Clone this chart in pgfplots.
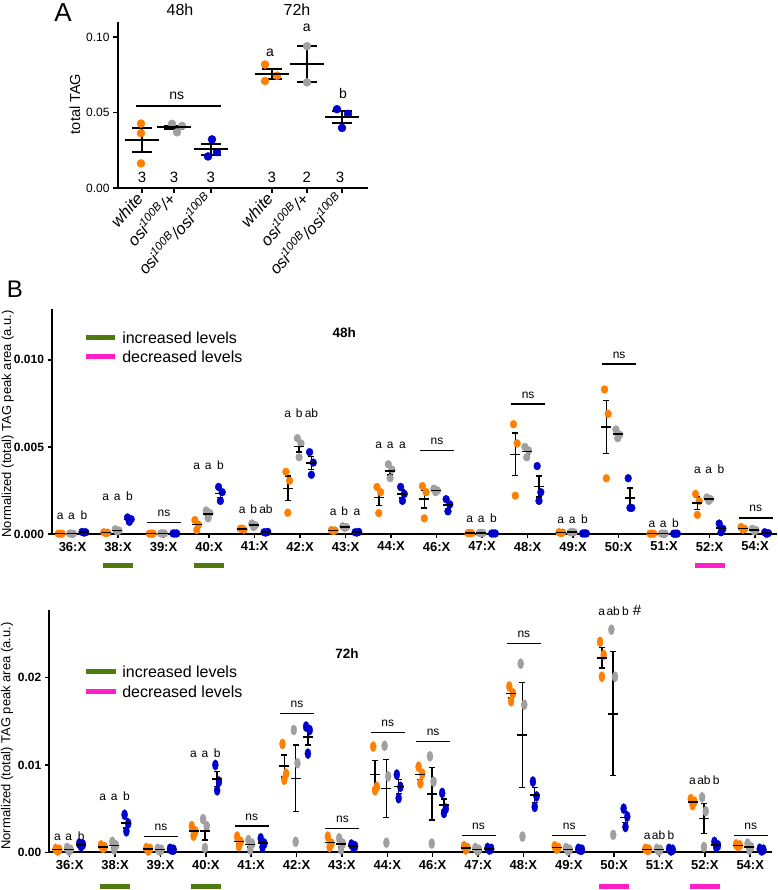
\documentclass[border=0pt]{standalone}
\usepackage{fontspec}
\setmainfont{Liberation Sans}
\usepackage{pgfplots}
\usepackage{pgfplotstable}
\pgfplotsset{compat=1.18}
\definecolor{cO}{HTML}{FF8000}
\definecolor{cG}{HTML}{A0A0A0}
\definecolor{cB}{HTML}{0000CC}
\definecolor{cInc}{HTML}{4E7A0E}
\definecolor{cDec}{HTML}{FF1EC8}

% panel A
\pgfplotstableread{
x y
141 0.0427
141 0.0363
141 0.0163
265 0.0818
277 0.0744
265 0.0709
}\AO
\pgfplotstableread{
x y
172 0.0425
182 0.0411
177 0.0369
307 0.0940
307 0.0700
}\AG
\pgfplotstableread{
x y
212 0.0322
208 0.0209
217 0.0238
337 0.0522
348 0.0491
342 0.0398
}\AB
\pgfplotstableread{
x y e
142 0.0318 0.0080
174 0.0402 0.0012
211 0.0256 0.0035
272 0.0757 0.0033
307 0.0820 0.0120
342 0.0470 0.0039
}\AM

% panel B 48h
\pgfplotstableread{
i o1 o2 o3 g1 g2 g3 b1 b2 b3 mo eo mg eg mb eb
0 0.00002 0.00002 0.00002 0.00003 0.00002 0.00001 0.00012 0.0001 0.00008 0.00002 0 0.00002 0 0.0001 0.00001
1 0.0001 0.00008 0.00005 0.00027 0.0002 0.00015 0.00095 0.00085 0.0007 0.00008 0.00001 0.0002 0.00003 0.00083 0.00007
2 0.00002 0.00002 0.00002 0.00003 0.00003 0.00003 0.00003 0.00003 0.00003 0.00002 0 0.00003 0 0.00003 0
3 0.0008 0.00052 0.00023 0.00135 0.0012 0.0009 0.0027 0.0024 0.0019 0.00055 0.00017 0.00115 0.00013 0.00233 0.00023
4 0.0003 0.00025 0.0003 0.0006 0.0005 0.0004 0.0001 0.00012 0.00008 0.00028 0.00002 0.0005 0.00006 0.0001 0.00001
5 0.00357 0.00306 0.00122 0.0055 0.0052 0.0044 0.0047 0.0041 0.0034 0.00262 0.00071 0.00503 0.00033 0.00407 0.00038
6 0.00022 0.0002 0.00018 0.00045 0.0004 0.00035 0.0001 0.00012 0.00008 0.0002 0.00001 0.0004 0.00003 0.0001 0.00001
7 0.0027 0.0024 0.0012 0.004 0.0037 0.0032 0.0027 0.0023 0.0019 0.0021 0.00046 0.00363 0.00023 0.0023 0.00023
8 0.00275 0.0024 0.0009 0.0026 0.0025 0.0024 0.002 0.0017 0.0013 0.002 0.0005 0.0025 0.00006 0.00167 0.0002
9 0.00005 0.00005 0.00005 0.00006 0.00005 0.00004 0.00003 0.00003 0.00003 0.00005 0 0.00005 0 0.00003 0
10 0.0063 0.0052 0.0022 0.005 0.0048 0.0044 0.0039 0.0024 0.0019 0.00457 0.00122 0.00473 0.00018 0.00273 0.0006
11 0.0001 0.00008 0.00005 0.0001 0.0001 0.0001 0.00003 0.00003 0.00003 0.00008 0.00001 0.0001 0 0.00003 0
12 0.0083 0.0069 0.0032 0.006 0.0057 0.0055 0.0032 0.0015 0.0015 0.00613 0.00152 0.00573 0.00015 0.00207 0.00057
13 0.00002 0.00002 0.00002 0.00002 0.00002 0.00002 0.00002 0.00002 0.00002 0.00002 0 0.00002 0 0.00002 0
14 0.0023 0.0019 0.0011 0.0021 0.002 0.0019 0.0006 0.0003 0.0001 0.00177 0.00035 0.002 0.00006 0.00033 0.00015
15 0.0004 0.0003 0.00025 0.0003 0.00022 0.00015 0.0001 0.00005 0.00001 0.00032 0.00004 0.00022 0.00004 0.00005 0.00003
}\Bfe

% panel B 72h
\pgfplotstableread{
i o1 o2 o3 g1 g2 g3 b1 b2 b3 mo eo mg eg mb eb
0 0.0004 0.0003 0.0002 0.0005 0.0003 0.0002 0.001 0.0009 0.0007 0.0003 0.00006 0.00033 0.00009 0.00087 0.00009
1 0.0008 0.0006 0.0005 0.0012 0.0008 0.0003 0.0043 0.0033 0.0024 0.00063 0.00009 0.00077 0.00026 0.00333 0.00055
2 0.0005 0.0004 0.0002 0.0004 0.0003 0.0002 0.0004 0.0003 0.0003 0.00037 0.00009 0.0003 0.00006 0.00033 0.00003
3 0.003 0.0024 0.0019 0.0038 0.003 0.0005 0.01 0.0081 0.0071 0.00243 0.00032 0.00243 0.001 0.0084 0.00085
4 0.0018 0.0012 0.0007 0.0014 0.001 0.0003 0.0016 0.001 0.0006 0.00123 0.0003 0.0009 0.0003 0.00107 0.0003
5 0.0124 0.009 0.0083 0.014 0.0102 0.0012 0.0144 0.014 0.0113 0.0099 0.00127 0.00847 0.0038 0.01323 0.00097
6 0.0018 0.001 0.0006 0.0016 0.001 0.0003 0.0009 0.0007 0.0006 0.00113 0.00035 0.00097 0.00038 0.00073 0.00009
7 0.0121 0.0075 0.0071 0.0122 0.0087 0.0011 0.0089 0.0075 0.0062 0.0089 0.0016 0.0073 0.0033 0.00753 0.00078
8 0.0098 0.009 0.0079 0.011 0.0081 0.001 0.0068 0.005 0.0045 0.0089 0.00055 0.0067 0.003 0.00543 0.0007
9 0.0007 0.0005 0.0003 0.0005 0.0003 0.0002 0.0005 0.0004 0.0003 0.0005 0.0001 0.00033 0.00009 0.0004 0.00006
10 0.019 0.0182 0.0173 0.0216 0.0169 0.0018 0.0081 0.0064 0.0052 0.01817 0.0005 0.01343 0.006 0.00657 0.00084
11 0.0007 0.0005 0.0004 0.0005 0.0003 0.0002 0.0004 0.0003 0.0003 0.00053 0.00009 0.00033 0.00009 0.00033 0.00003
12 0.0241 0.0226 0.0201 0.0255 0.0201 0.002 0.005 0.0041 0.0029 0.02227 0.00117 0.01587 0.0071 0.004 0.0006
13 0.0004 0.0003 0.0003 0.0004 0.0003 0.0002 0.0004 0.0003 0.0002 0.00033 0.00003 0.0003 0.00006 0.0003 0.00006
14 0.0061 0.0058 0.0054 0.0063 0.0047 0.0006 0.0012 0.0008 0.0006 0.00577 0.0002 0.00387 0.0017 0.00087 0.00018
15 0.0009 0.0008 0.0007 0.001 0.0006 0.0003 0.0004 0.0003 0.0002 0.0008 0.00006 0.00063 0.0002 0.0003 0.00006
}\Bse

\pgfplotsset{
  gpbase/.style={scale only axis, enlargelimits=false, clip=false,
    axis lines*=left, axis line style={-, line width=2pt},
    tick style={black, line width=1.5pt}, tick align=outside,
    major tick length=4.5pt, scaled y ticks=false, scaled x ticks=false},
  panelB/.style={gpbase, xmin=-0.45, xmax=15.48, ymin=0,
    xtick={0,...,15},
    xticklabels={36:X,38:X,39:X,40:X,41:X,42:X,43:X,44:X,46:X,47:X,48:X,49:X,50:X,51:X,52:X,54:X},
    xticklabel style={font=\bfseries\fontsize{13}{15}\selectfont},
    yticklabel style={font=\bfseries\fontsize{12}{14}\selectfont},
    ylabel={Normalized (total) TAG peak area (a.u.)},
    ylabel style={font=\fontsize{13}{15}\selectfont, anchor=center}},
  meanbar/.style={only marks, mark=-, mark size=5pt, black, line width=1.6pt,
    error bars/.cd, y dir=both, y explicit,
    error bar style={line width=1.5pt, black},
    error mark options={rotate=90, mark size=3pt, line width=1.5pt, black}},
}

\newcommand{\lets}[5]{%
  \node[anchor=base, inner sep=0, font=\fontsize{12}{14}\selectfont, xshift=-12.3pt] at (axis cs:#1,#2) {#3};%
  \node[anchor=base, inner sep=0, font=\fontsize{12}{14}\selectfont, xshift=-0.9pt] at (axis cs:#1,#2) {#4};%
  \node[anchor=base, inner sep=0, font=\fontsize{12}{14}\selectfont, xshift=11.4pt] at (axis cs:#1,#2) {#5};}
\newcommand{\nsl}[2]{%
  \draw[line width=1.5pt] ([xshift=-16.5pt]axis cs:#1,#2) -- ([xshift=17.5pt]axis cs:#1,#2);%
  \node[anchor=base, inner sep=0, font=\fontsize{12}{14}\selectfont] at ([xshift=0.5pt,yshift=6pt]axis cs:#1,#2) {ns};}
\newcommand{\ubar}[3]{%
  \draw[line width=5pt, #3] ([xshift=-15pt]axis cs:#1,#2) -- ([xshift=15pt]axis cs:#1,#2);}
\newcommand{\legB}[5]{% x1 x2 xtext y1 y2
  \draw[line width=5pt, cInc] (axis cs:#1,#4) -- (axis cs:#2,#4);
  \node[anchor=west, inner sep=0, font=\fontsize{16}{18}\selectfont] at (axis cs:#3,#4) {increased levels};
  \draw[line width=5pt, cDec] (axis cs:#1,#5) -- (axis cs:#2,#5);
  \node[anchor=west, inner sep=0, font=\fontsize{16}{18}\selectfont] at (axis cs:#3,#5) {decreased levels};}

\newcommand{\dotsB}[3]{% table, msize, yscale
  \addplot[only marks, mark=*, color=cO, mark size=#2, mark options={yscale=#3}] table[x expr=\thisrow{i}-0.31, y=o1] {#1};
  \addplot[only marks, mark=*, color=cO, mark size=#2, mark options={yscale=#3}] table[x expr=\thisrow{i}-0.23, y=o2] {#1};
  \addplot[only marks, mark=*, color=cO, mark size=#2, mark options={yscale=#3}] table[x expr=\thisrow{i}-0.27, y=o3] {#1};
  \addplot[only marks, mark=*, color=cG, mark size=#2, mark options={yscale=#3}] table[x expr=\thisrow{i}-0.06, y=g1] {#1};
  \addplot[only marks, mark=*, color=cG, mark size=#2, mark options={yscale=#3}] table[x expr=\thisrow{i}+0.02, y=g2] {#1};
  \addplot[only marks, mark=*, color=cG, mark size=#2, mark options={yscale=#3}] table[x expr=\thisrow{i}-0.02, y=g3] {#1};
  \addplot[only marks, mark=*, color=cB, mark size=#2, mark options={yscale=#3}] table[x expr=\thisrow{i}+0.21, y=b1] {#1};
  \addplot[only marks, mark=*, color=cB, mark size=#2, mark options={yscale=#3}] table[x expr=\thisrow{i}+0.29, y=b2] {#1};
  \addplot[only marks, mark=*, color=cB, mark size=#2, mark options={yscale=#3}] table[x expr=\thisrow{i}+0.25, y=b3] {#1};
  \addplot[meanbar] table[x expr=\thisrow{i}-0.27, y=mo, y error=eo] {#1};
  \addplot[meanbar] table[x expr=\thisrow{i}-0.02, y=mg, y error=eg] {#1};
  \addplot[meanbar] table[x expr=\thisrow{i}+0.25, y=mb, y error=eb] {#1};
}

\begin{document}
\begin{tikzpicture}[x=1pt,y=1pt]
\useasboundingbox (0,0) rectangle (777,890);
\node[anchor=center, font=\fontsize{26}{28}\selectfont] at (63,877) {A};
\node[anchor=center, font=\fontsize{24}{26}\selectfont] at (15,601) {B};
\node[anchor=center, font=\fontsize{16}{18}\selectfont] at (180,880) {48h};
\node[anchor=center, font=\fontsize{16}{18}\selectfont] at (297,880) {72h};

% ---------------- Panel A
\begin{axis}[gpbase, at={(118pt,702pt)}, anchor=south west,
  width=250pt, height=166pt, xmin=118, xmax=368, ymin=0, ymax=0.11,
  major tick length=5pt,
  xtick={142,174,211,272,307,342},
  xticklabels={white, osi\textsuperscript{100B}/+, osi\textsuperscript{100B}/osi\textsuperscript{100B}, white, osi\textsuperscript{100B}/+, osi\textsuperscript{100B}/osi\textsuperscript{100B}},
  xticklabel style={rotate=48, anchor=east, font=\itshape\fontsize{16.5}{18}\selectfont},
  ytick={0,0.05,0.1}, yticklabels={0.00,0.05,0.10},
  yticklabel style={font=\fontsize{12}{14}\selectfont},
  ylabel={total TAG},
  ylabel style={font=\fontsize{14.5}{16}\selectfont, at={(axis description cs:-0.172,0.506)}, anchor=center}]
\addplot[only marks, mark=*, color=cO, mark size=4pt] table[x=x,y=y] {\AO};
\addplot[only marks, mark=*, color=cG, mark size=4pt] table[x=x,y=y] {\AG};
\addplot[only marks, mark=*, color=cB, mark size=4pt] table[x=x,y=y] {\AB};
\addplot[only marks, mark=-, mark size=17pt, black, line width=2pt,
  error bars/.cd, y dir=both, y explicit,
  error bar style={line width=2pt, black},
  error mark options={rotate=90, mark size=10pt, line width=2pt, black}]
  table[x=x, y=y, y error=e] {\AM};
\draw[line width=1.6pt] (axis cs:136,0.0545) -- (axis cs:220.7,0.0545);
\node[anchor=base, inner sep=0, font=\fontsize{14}{16}\selectfont] at (axis cs:176.7,0.0585) {ns};
\node[font=\fontsize{14}{16}\selectfont] at (axis cs:270,0.0898) {a};
\node[font=\fontsize{14}{16}\selectfont] at (axis cs:306.7,0.1063) {a};
\node[font=\fontsize{14}{16}\selectfont] at (axis cs:343,0.0623) {b};
\node[font=\fontsize{15}{17}\selectfont] at (axis cs:142,0.0071) {3};
\node[font=\fontsize{15}{17}\selectfont] at (axis cs:174,0.0071) {3};
\node[font=\fontsize{15}{17}\selectfont] at (axis cs:210.7,0.0071) {3};
\node[font=\fontsize{15}{17}\selectfont] at (axis cs:271.7,0.0071) {3};
\node[font=\fontsize{15}{17}\selectfont] at (axis cs:306.7,0.0071) {2};
\node[font=\fontsize{15}{17}\selectfont] at (axis cs:340,0.0071) {3};
\end{axis}

% ---------------- Panel B 48h
\begin{axis}[panelB, at={(52pt,356pt)}, anchor=south west,
  width=725pt, height=224.7pt, ymax=0.0129,
  ytick={0,0.005,0.01}, yticklabels={0.000,0.005,0.010},
  ylabel style={at={(axis description cs:-0.061,0.49)}}]
\dotsB{\Bfe}{3.4pt}{1.15}
\lets{0}{0.00085}{a}{a}{b}
\lets{1}{0.00194}{a}{a}{b}
\lets{3}{0.0037}{a}{a}{b}
\lets{4}{0.00118}{a}{b}{ab}
\lets{5}{0.00666}{a}{b}{ab}
\lets{6}{0.00108}{a}{b}{a}
\lets{7}{0.0049}{a}{a}{a}
\lets{9}{0.00068}{a}{a}{b}
\lets{11}{0.0006}{a}{a}{b}
\lets{13}{0.0004}{a}{a}{b}
\lets{14}{0.0035}{a}{a}{b}
\nsl{2}{0.00067}
\nsl{8}{0.0048}
\nsl{10}{0.00745}
\nsl{12}{0.00975}
\nsl{15}{0.00092}
\ubar{1}{-0.00183}{cInc}
\ubar{3}{-0.00183}{cInc}
\ubar{14}{-0.00183}{cDec}
\legB{0.30}{0.94}{1.09}{0.01128}{0.01017}
\node[font=\bfseries\fontsize{13.5}{15}\selectfont] at (axis cs:5.97,0.01154) {48h};
\end{axis}

% ---------------- Panel B 72h
\begin{axis}[panelB, at={(49.3pt,37.7pt)}, anchor=south west,
  width=722.7pt, height=242.3pt, ymax=0.02775,
  ytick={0,0.01,0.02}, yticklabels={0.00,0.01,0.02},
  ylabel style={at={(axis description cs:-0.0585,0.48)}}]
\dotsB{\Bse}{3pt}{1.7}
\lets{0}{0.0013}{a}{a}{b}
\lets{1}{0.0059}{a}{a}{b}
\lets{3}{0.0108}{a}{a}{b}
\lets{12}{0.0271}{a}{ab}{b}
\node[anchor=base, inner sep=0, font=\fontsize{15}{17}\selectfont, xshift=23pt] at (axis cs:12,0.0271) {\#};
\lets{13}{0.0015}{a}{ab}{b}
\lets{14}{0.0078}{a}{ab}{b}
\nsl{2}{0.0018}
\nsl{4}{0.003}
\nsl{5}{0.0159}
\nsl{6}{0.0027}
\nsl{7}{0.0137}
\nsl{8}{0.0127}
\nsl{9}{0.0019}
\nsl{10}{0.0239}
\nsl{11}{0.0019}
\nsl{15}{0.0019}
\ubar{1}{-0.00394}{cInc}
\ubar{3}{-0.00394}{cInc}
\ubar{12}{-0.00394}{cDec}
\ubar{14}{-0.00394}{cDec}
\legB{0.36}{1.02}{1.155}{0.02069}{0.0184}
\node[font=\bfseries\fontsize{13.5}{15}\selectfont] at (axis cs:6.11,0.0228) {72h};
\end{axis}
\end{tikzpicture}
\end{document}
